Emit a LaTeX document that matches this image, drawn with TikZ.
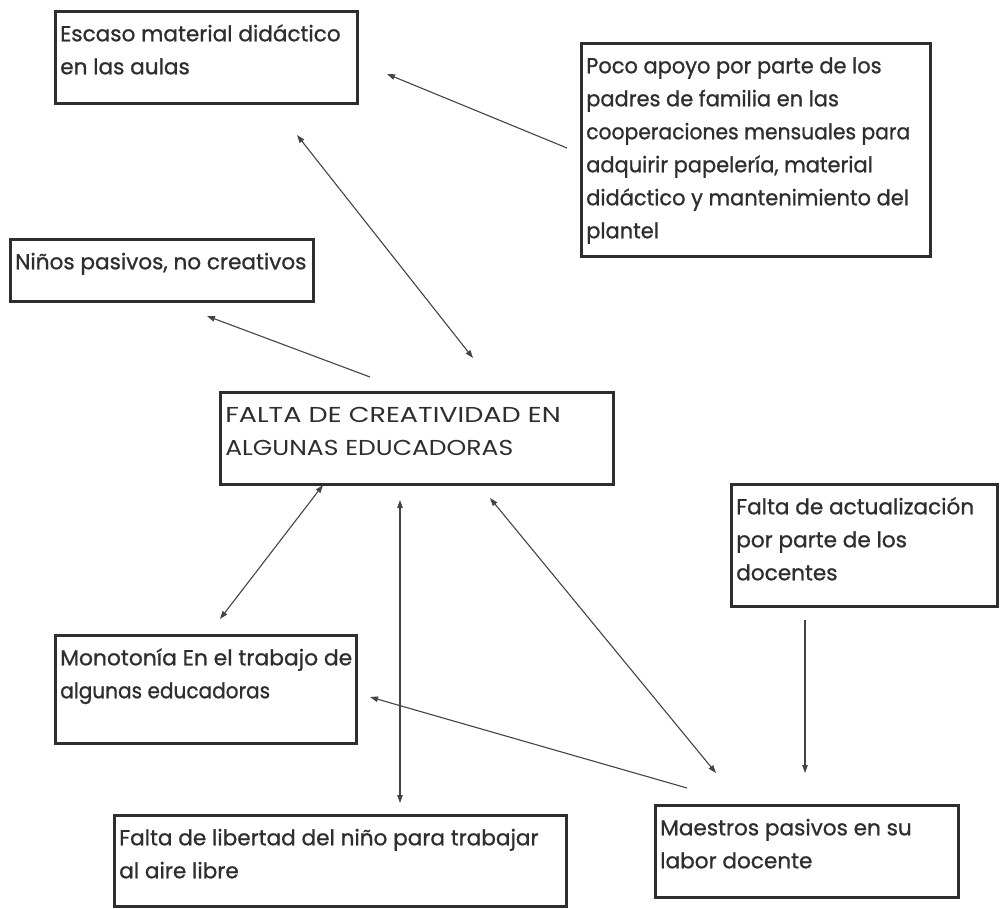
\documentclass[tikz,border=0pt]{standalone}
\usepackage{graphicx}
\usepackage{fontspec}
\setmainfont{Poppins}[FakeBold=0.9]
\usetikzlibrary{arrows.meta}
\definecolor{ink}{HTML}{2E2E2E}
\definecolor{wire}{HTML}{444444}
\newcommand{\boxtext}[3]{\parbox[c][#2pt][t]{#1pt}{\fontsize{21.6}{33}\selectfont\raggedright\leftskip=5pt\rule{0pt}{30pt}#3}}
\newcommand{\stretchtxt}[2]{\scalebox{#1}[1]{#2}}
\tikzset{
  cbox/.style={draw=ink, line width=2.5pt, inner sep=0pt, anchor=north west, text=ink},
  link/.style={draw=wire, line width=1.1pt, -{Triangle[length=8pt,width=5.5pt]}},
  dlink/.style={draw=wire, line width=1.1pt, {Triangle[length=8pt,width=5.5pt]}-{Triangle[length=8pt,width=5.5pt]}}
}
\begin{document}
\begin{tikzpicture}[x=1pt,y=-1pt]
\useasboundingbox[fill=white] (0,0) rectangle (1000,908);
\node[cbox] (A) at (54,10) {\boxtext{302}{92}{Escaso material didáctico\\en las aulas}};
\node[cbox] (B) at (580,42) {\boxtext{349}{213}{\stretchtxt{0.97}{Poco apoyo por parte de los}\\\stretchtxt{0.97}{padres de familia en las}\\\stretchtxt{0.94}{cooperaciones mensuales para}\\\stretchtxt{0.97}{adquirir papelería, material}\\\stretchtxt{0.97}{didáctico y mantenimiento del}\\\stretchtxt{0.97}{plantel}}};
\node[cbox] (C) at (9,238) {\boxtext{303}{62}{Niños pasivos, no creativos}};
\node[cbox] (D) at (219,391) {\boxtext{393}{92}{{\fontspec{Poppins}\stretchtxt{1.25}{FALTA DE CREATIVIDAD EN}\\\stretchtxt{1.16}{ALGUNAS EDUCADORAS}}}};
\node[cbox] (E) at (730,483) {\boxtext{266}{122}{Falta de actualización\\por parte de los\\docentes}};
\node[cbox] (F) at (54,634) {\boxtext{301}{108}{\stretchtxt{1.01}{Monotonía En el trabajo de}\\\stretchtxt{0.93}{algunas educadoras}}};
\node[cbox] (G) at (113,814) {\boxtext{452}{91}{Falta de libertad del niño para trabajar\\al aire libre}};
\node[cbox] (H) at (654,804) {\boxtext{303}{92}{Maestros pasivos en su\\labor docente}};
\coordinate (b1) at (567,148); \coordinate (a1) at (387,74);
\coordinate (a2) at (297,135); \coordinate (d2) at (473,358);
\coordinate (d3) at (370,377); \coordinate (c3) at (207,316);
\coordinate (d4) at (323,485); \coordinate (f4) at (220,619);
\coordinate (d5) at (400,500); \coordinate (g5) at (400,803);
\coordinate (d6) at (490,498); \coordinate (h6) at (716,773);
\coordinate (h7) at (687,788); \coordinate (f7) at (370,697);
\coordinate (e8) at (805,620); \coordinate (h8) at (805,773);
\draw[link] (b1) -- (a1);
\draw[dlink] (a2) -- (d2);
\draw[link] (d3) -- (c3);
\draw[dlink] (d4) -- (f4);
\draw[dlink] (d5) -- (g5);
\draw[dlink] (d6) -- (h6);
\draw[link] (h7) -- (f7);
\draw[link] (e8) -- (h8);
\end{tikzpicture}
\end{document}
